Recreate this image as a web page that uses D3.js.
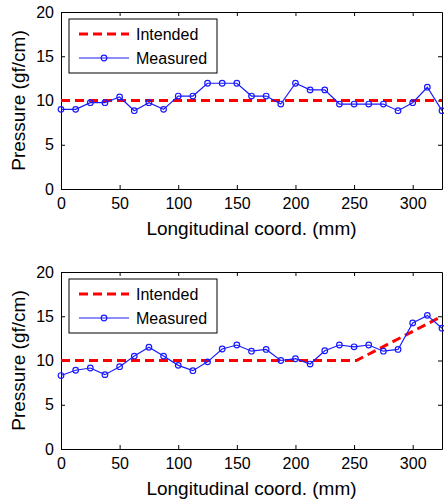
<!DOCTYPE html>
<html>
<head>
<meta charset="utf-8">
<script src="https://cdn.jsdelivr.net/npm/d3@7"></script>
<style>
  body { margin: 0; background: #fff; }
  svg { font-family: "Liberation Sans", Arial, sans-serif; }
</style>
</head>
<body>
<div id="chart"></div>
<script>
// x positions of the measurements (mm)
var coords = d3.range(27).map(function(i) { return i * 12.5; });

var measuredTop = [9.0, 9.0, 9.75, 9.75, 10.4, 8.85, 9.75, 9.0, 10.5, 10.5, 11.95, 11.95, 11.95,
  10.5, 10.5, 9.6, 11.95, 11.2, 11.2, 9.6, 9.6, 9.6, 9.6, 8.85, 9.75, 11.5, 8.85];
var intendedTopX = [0, 325];
var intendedTopY = [10, 10];

var measuredBottom = [8.3, 8.9, 9.15, 8.4, 9.3, 10.5, 11.5, 10.5, 9.45, 8.85, 9.85, 11.3, 11.75,
  11.05, 11.25, 10.0, 10.2, 9.6, 11.1, 11.75, 11.55, 11.75, 11.05, 11.25, 14.25, 15.1, 13.65];
var intendedBottomX = [0, 252, 325];
var intendedBottomY = [10, 10, 15];

var xTicks = [0, 50, 100, 150, 200, 250, 300];
var yTicks = [0, 5, 10, 15, 20];

var width = 444, height = 501;
var svg = d3.select("#chart").append("svg")
    .attr("width", width)
    .attr("height", height);

function drawPanel(top, measured, intX, intY) {
    var left = 61, right = 442, bottom = top + 177;
    var x = d3.scaleLinear().domain([0, 325]).range([left, right]);
    var y = d3.scaleLinear().domain([0, 20]).range([bottom, top]);
    var g = svg.append("g");

    //axes with ticks pointing in, MATLAB style
    g.append("g").attr("transform", "translate(0," + bottom + ")")
        .call(d3.axisBottom(x).tickValues(xTicks).tickSizeInner(-4).tickSizeOuter(0).tickPadding(9));
    g.append("g").attr("transform", "translate(0," + top + ")")
        .call(d3.axisTop(x).tickValues(xTicks).tickSizeInner(-4).tickSizeOuter(0).tickFormat(""));
    g.append("g").attr("transform", "translate(" + left + ",0)")
        .call(d3.axisLeft(y).tickValues(yTicks).tickSizeInner(-4).tickSizeOuter(0).tickPadding(7));
    g.append("g").attr("transform", "translate(" + right + ",0)")
        .call(d3.axisRight(y).tickValues(yTicks).tickSizeInner(-4).tickSizeOuter(0).tickFormat(""));
    g.selectAll(".domain").attr("stroke", "#000");
    g.selectAll(".tick line").attr("stroke", "#000");
    g.selectAll(".tick text").attr("font-size", 16).attr("fill", "#000")
        .attr("font-family", "Liberation Sans, Arial, sans-serif");

    //intended line
    g.append("path")
        .datum(intX.map(function(d, i) { return [d, intY[i]]; }))
        .attr("fill", "none")
        .attr("stroke", "#ff0000")
        .attr("stroke-width", 3)
        .attr("stroke-dasharray", "9,5")
        .attr("d", d3.line().x(function(d) { return x(d[0]); }).y(function(d) { return y(d[1]); }));

    //measured line + markers
    var pts = coords.map(function(d, i) { return [d, measured[i]]; });
    g.append("path")
        .datum(pts)
        .attr("fill", "none")
        .attr("stroke", "#1a1aff")
        .attr("stroke-width", 1.2)
        .attr("d", d3.line().x(function(d) { return x(d[0]); }).y(function(d) { return y(d[1]); }));
    g.selectAll(".pt").data(pts).enter().append("circle")
        .attr("cx", function(d) { return x(d[0]); })
        .attr("cy", function(d) { return y(d[1]); })
        .attr("r", 2.8)
        .attr("fill", "none")
        .attr("stroke", "#1a1aff")
        .attr("stroke-width", 1.2);

    //labels
    g.append("text")
        .attr("x", (left + right) / 2).attr("y", bottom + 46)
        .attr("text-anchor", "middle").attr("font-size", 19)
        .text("Longitudinal coord. (mm)");
    g.append("text")
        .attr("transform", "translate(25," + (top + bottom) / 2 + ") rotate(-90)")
        .attr("text-anchor", "middle").attr("font-size", 19)
        .text("Pressure (gf/cm)");

    //legend
    var lg = g.append("g").attr("transform", "translate(69," + (top + 7) + ")");
    lg.append("rect").attr("width", 148).attr("height", 54)
        .attr("fill", "#fff").attr("stroke", "#000").attr("stroke-width", 1);
    lg.append("line").attr("x1", 10).attr("x2", 60).attr("y1", 15).attr("y2", 15)
        .attr("stroke", "#ff0000").attr("stroke-width", 3).attr("stroke-dasharray", "9,5");
    lg.append("text").attr("x", 67).attr("y", 21).attr("font-size", 16).text("Intended");
    lg.append("line").attr("x1", 10).attr("x2", 60).attr("y1", 39).attr("y2", 39)
        .attr("stroke", "#1a1aff").attr("stroke-width", 1.2);
    lg.append("circle").attr("cx", 35).attr("cy", 39).attr("r", 2.8)
        .attr("fill", "none").attr("stroke", "#1a1aff").attr("stroke-width", 1.2);
    lg.append("text").attr("x", 67).attr("y", 45).attr("font-size", 16).text("Measured");
}

drawPanel(12, measuredTop, intendedTopX, intendedTopY);
drawPanel(272, measuredBottom, intendedBottomX, intendedBottomY);
</script>
</body>
</html>
